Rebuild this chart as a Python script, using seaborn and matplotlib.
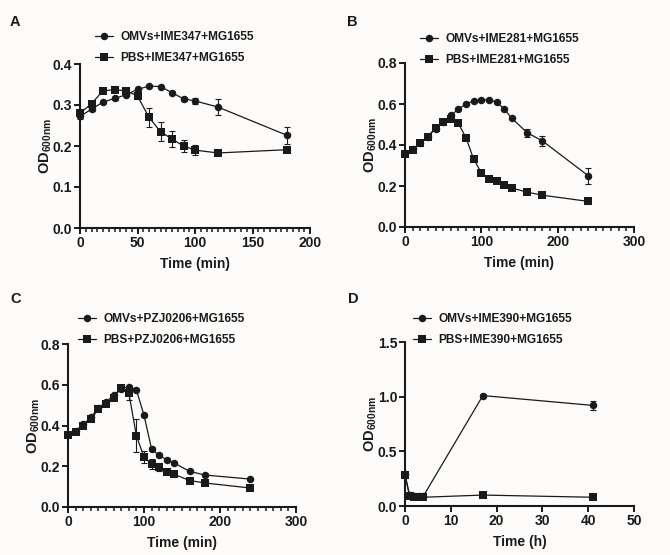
import numpy as np
import pandas as pd
import seaborn as sns
import matplotlib
matplotlib.use('Agg')
import matplotlib.pyplot as plt
from matplotlib.ticker import MultipleLocator, FuncFormatter, NullLocator
from matplotlib.lines import Line2D
from matplotlib.transforms import blended_transform_factory

sns.set_theme(style='ticks')
plt.rcParams['font.family'] = ['Liberation Sans', 'DejaVu Sans']
plt.rcParams['font.weight'] = 'bold'
plt.rcParams['axes.labelweight'] = 'bold'
plt.rcParams['mathtext.fontset'] = 'custom'
plt.rcParams['mathtext.rm'] = 'Liberation Sans:bold'
plt.rcParams['mathtext.bf'] = 'Liberation Sans:bold'
plt.rcParams['mathtext.it'] = 'Liberation Sans:bold'

# ---------------- data ----------------
A_time = [0, 10, 20, 30, 40, 50, 60, 70, 80, 90, 100, 120, 180]
A_omv = [0.272, 0.290, 0.307, 0.316, 0.325, 0.338, 0.346, 0.345, 0.330, 0.315, 0.310, 0.295, 0.226]
A_omv_err = [0.005, 0.005, 0.003, 0.003, 0.004, 0.003, 0.002, 0.002, 0.003, 0.005, 0.007, 0.020, 0.020]
A_pbs = [0.280, 0.303, 0.335, 0.337, 0.335, 0.322, 0.270, 0.235, 0.217, 0.200, 0.190, 0.183, 0.191]
A_pbs_err = [0.008, 0.006, 0.003, 0.003, 0.004, 0.008, 0.023, 0.023, 0.020, 0.015, 0.013, 0.004, 0.004]

B_time = [0, 10, 20, 30, 40, 50, 60, 70, 80, 90, 100, 110, 120, 130, 140, 160, 180, 240]
B_omv = [0.36, 0.38, 0.41, 0.44, 0.48, 0.51, 0.545, 0.575, 0.60, 0.615, 0.62, 0.62, 0.61, 0.575, 0.53, 0.46, 0.42, 0.25]
B_omv_err = [0.01, 0.005, 0.005, 0.005, 0.005, 0.005, 0.005, 0.005, 0.005, 0.005, 0.005, 0.005, 0.005, 0.005, 0.005, 0.02, 0.025, 0.04]
B_pbs = [0.355, 0.375, 0.41, 0.44, 0.485, 0.51, 0.527, 0.505, 0.435, 0.33, 0.265, 0.235, 0.225, 0.205, 0.19, 0.17, 0.155, 0.125]
B_pbs_err = [0.005, 0.005, 0.005, 0.005, 0.005, 0.005, 0.005, 0.005, 0.008, 0.008, 0.005, 0.005, 0.005, 0.005, 0.005, 0.005, 0.005, 0.015]

C_time = [0, 10, 20, 30, 40, 50, 60, 70, 80, 90, 100, 110, 120, 130, 140, 160, 180, 240]
C_omv = [0.355, 0.375, 0.405, 0.44, 0.485, 0.515, 0.55, 0.58, 0.59, 0.575, 0.45, 0.285, 0.253, 0.232, 0.215, 0.175, 0.157, 0.137]
C_omv_err = [0.005, 0.005, 0.005, 0.005, 0.005, 0.005, 0.005, 0.005, 0.005, 0.005, 0.008, 0.008, 0.008, 0.005, 0.005, 0.005, 0.005, 0.005]
C_pbs = [0.355, 0.37, 0.40, 0.43, 0.48, 0.505, 0.535, 0.585, 0.56, 0.35, 0.245, 0.21, 0.195, 0.17, 0.16, 0.13, 0.118, 0.093]
C_pbs_err = [0.005, 0.005, 0.005, 0.005, 0.005, 0.005, 0.005, 0.008, 0.035, 0.08, 0.03, 0.025, 0.02, 0.015, 0.015, 0.008, 0.008, 0.005]

D_time = [0, 1, 2, 3, 4, 17, 41]
D_omv = [0.29, 0.10, 0.09, 0.09, 0.09, 1.01, 0.92]
D_omv_err = [0.02, 0.01, 0.01, 0.01, 0.01, 0.01, 0.04]
D_pbs = [0.28, 0.09, 0.08, 0.08, 0.08, 0.10, 0.08]
D_pbs_err = [0.02, 0.01, 0.01, 0.01, 0.01, 0.01, 0.01]

panels = [
    dict(letter='A', t=A_time, omv=A_omv, omv_e=A_omv_err, pbs=A_pbs, pbs_e=A_pbs_err,
         phage='IME347', xmax=200, xmaj=50, xmin=5, ymax=0.4, ymaj=0.1,
         xlabel='Time (min)', rect=[80, 64, 310, 228], leg=(95, 31), lpos=(10, 22)),
    dict(letter='B', t=B_time, omv=B_omv, omv_e=B_omv_err, pbs=B_pbs, pbs_e=B_pbs_err,
         phage='IME281', xmax=300, xmaj=100, xmin=10, ymax=0.8, ymaj=0.2,
         xlabel='Time (min)', rect=[405, 63, 634, 227], leg=(420, 33), lpos=(347, 22)),
    dict(letter='C', t=C_time, omv=C_omv, omv_e=C_omv_err, pbs=C_pbs, pbs_e=C_pbs_err,
         phage='PZJ0206', xmax=300, xmaj=100, xmin=10, ymax=0.8, ymaj=0.2,
         xlabel='Time (min)', rect=[68, 344, 296, 507], leg=(78, 313), lpos=(10, 299)),
    dict(letter='D', t=D_time, omv=D_omv, omv_e=D_omv_err, pbs=D_pbs, pbs_e=D_pbs_err,
         phage='IME390', xmax=50, xmaj=10, xmin=None, ymax=1.5, ymaj=0.5,
         xlabel='Time (h)', rect=[405, 342, 634, 506], leg=(413, 313), lpos=(348, 299)),
]

W, H = 670, 555
fig = plt.figure(figsize=(W / 100, H / 100), dpi=100)
fig.patch.set_facecolor('#fdfcfb')
col = '#1a1a1a'
MAJ_PX, MIN_PX = 6.0, 4.0   # tick lengths in pixels

for p in panels:
    l, t, r, b = p['rect']
    ax = fig.add_axes([l / W, 1 - b / H, (r - l) / W, (b - t) / H])
    ax.set_facecolor('none')
    df = pd.DataFrame({'time': p['t'], 'omv': p['omv'], 'pbs': p['pbs']})
    sns.lineplot(data=df, x='time', y='omv', ax=ax, color=col, marker='o', markersize=5.4,
                 markeredgewidth=0, linewidth=0.9, clip_on=False, zorder=3)
    sns.lineplot(data=df, x='time', y='pbs', ax=ax, color=col, marker='s', markersize=5.6,
                 markeredgewidth=0, linewidth=0.9, clip_on=False, zorder=3)
    ax.errorbar(p['t'], p['omv'], yerr=p['omv_e'], fmt='none', ecolor=col, elinewidth=0.8,
                capsize=2.5, capthick=0.8, clip_on=False, zorder=2)
    ax.errorbar(p['t'], p['pbs'], yerr=p['pbs_e'], fmt='none', ecolor=col, elinewidth=0.8,
                capsize=2.5, capthick=0.8, clip_on=False, zorder=2)
    ax.spines['top'].set_visible(False)
    ax.spines['right'].set_visible(False)
    for s in ['left', 'bottom']:
        ax.spines[s].set_linewidth(1.5)
        ax.spines[s].set_color(col)
    ax.set_xlim(0, p['xmax'])
    ax.set_ylim(0, p['ymax'])
    ax.xaxis.set_major_locator(MultipleLocator(p['xmaj']))
    ax.xaxis.set_minor_locator(NullLocator())
    ax.yaxis.set_major_locator(MultipleLocator(p['ymaj']))
    ax.yaxis.set_minor_locator(NullLocator())
    ax.yaxis.set_major_formatter(FuncFormatter(lambda v, _: f'{v:.1f}'))
    # tick labels from the axis; tick marks drawn as lines below (pad keeps labels clear)
    ax.tick_params(which='major', direction='out', length=0, width=0, color=col,
                   labelsize=10, pad=5.5, labelcolor=col)
    for lab in ax.get_xticklabels() + ax.get_yticklabels():
        lab.set_fontweight('bold')
    axw, axh = (r - l), (b - t)
    tx = blended_transform_factory(ax.transData, ax.transAxes)
    ty = blended_transform_factory(ax.transAxes, ax.transData)
    xmaj_pos = np.arange(0, p['xmax'] + 1e-9, p['xmaj'])
    ax.vlines(xmaj_pos, -MAJ_PX / axh, 0, transform=tx, colors=col, linewidth=1.4,
              clip_on=False)
    if p['xmin']:
        xmin_pos = np.arange(0, p['xmax'] + 1e-9, p['xmin'])
        ax.vlines(xmin_pos, -MIN_PX / axh, 0, transform=tx, colors=col, linewidth=1.1,
                  clip_on=False)
    ymaj_pos = np.arange(0, p['ymax'] + 1e-9, p['ymaj'])
    ax.hlines(ymaj_pos, -MAJ_PX / axw, 0, transform=ty, colors=col, linewidth=1.4,
              clip_on=False)
    ax.set_xlabel(p['xlabel'], fontsize=10, fontweight='bold', color=col, labelpad=5)
    ax.set_ylabel(r'OD$_{600nm}$', fontsize=10.5, fontweight='bold', color=col, labelpad=-1)
    handles = [Line2D([], [], color=col, marker='o', markersize=5.4, markeredgewidth=0, linewidth=0.9),
               Line2D([], [], color=col, marker='s', markersize=5.6, markeredgewidth=0, linewidth=0.9)]
    labels = [f"OMVs+{p['phage']}+MG1655", f"PBS+{p['phage']}+MG1655"]
    lx, ly = p['leg']
    leg = ax.legend(handles, labels, loc='upper left', bbox_to_anchor=(lx / W, 1 - ly / H),
                    bbox_transform=fig.transFigure, frameon=False,
                    handlelength=1.5, handletextpad=0.6, labelspacing=0.78,
                    borderpad=0, borderaxespad=0, prop={'weight': 'bold', 'size': 8.6})
    for txt in leg.get_texts():
        txt.set_color(col)
    px, py = p['lpos']
    fig.text(px / W, 1 - py / H, p['letter'], fontsize=10.5, fontweight='bold',
             color=col, ha='left', va='center')

fig.savefig('out.png', dpi=100, facecolor=fig.get_facecolor())
